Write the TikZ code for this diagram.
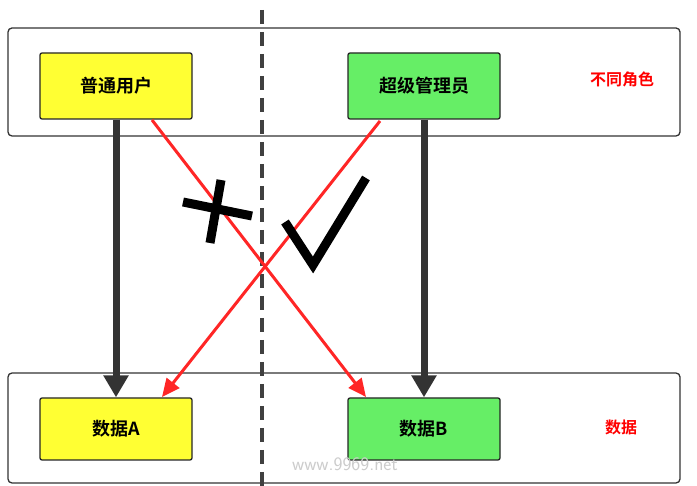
\documentclass[tikz,border=0pt]{standalone}
\usepackage{fontspec}
\newfontfamily\cjk{Noto Sans CJK SC}[BoldFont={Noto Sans CJK SC Bold}]
\usetikzlibrary{arrows.meta}
\definecolor{ylw}{HTML}{FFFF33}
\definecolor{grn}{HTML}{66EE66}
\begin{document}
\begin{tikzpicture}[x=1pt,y=-1pt,
 cont/.style={draw=black!80,line width=1.3pt,rounded corners=4pt},
 box/.style={draw=black!85,line width=1.3pt,rounded corners=2pt,minimum width=152pt,minimum height=66pt,font=\cjk\bfseries\fontsize{18}{22}\selectfont},
 blk/.style={draw=black!80,line width=7pt,-{Triangle[length=22pt,width=24pt]}},
 red/.style={draw=red!85!white,line width=3pt,-{Triangle[length=18pt,width=16pt]}},
 lab/.style={text=red,font=\cjk\bfseries\fontsize{16}{19}\selectfont}]
\useasboundingbox (0,0) rectangle (697,486);
\fill[white] (0,0) rectangle (697,486);
\draw[cont] (8,28) rectangle (680,136);
\draw[cont] (8,373) rectangle (680,483);
\draw[black!75,line width=4.5pt,dash pattern=on 14pt off 8pt] (262,10) -- (262,486);
\node[box,fill=ylw] (u) at (116,86) {普通用户};
\node[box,fill=grn] (s) at (424,86) {超级管理员};
\node[box,fill=ylw,minimum height=62pt] (a) at (116,429) {数据A};
\node[box,fill=grn,minimum height=62pt] (b) at (424,429) {数据B};
\node[lab] (l1) at (622,79) {不同角色};
\node[lab] (l2) at (621,427) {数据};
\draw[blk] (u.south) -- (a.north);
\draw[blk] (s.south) -- (b.north);
\coordinate (u1) at (152,120);\coordinate (b1) at (366,397);
\coordinate (s1) at (380,121);\coordinate (a1) at (162,397);
\draw[red] (u1) -- (b1);
\draw[red] (s1) -- (a1);
\draw[line width=9pt] (183,202) -- (252,216);
\draw[line width=9pt] (221,180) -- (210,243);
\draw[line width=9pt,line join=miter] (285,222) -- (313,265) -- (366,178);
\node[text=black!20,font=\sffamily\fontsize{19}{22}\selectfont] (w) at (345,464) {www.9969.net};
\end{tikzpicture}
\end{document}
